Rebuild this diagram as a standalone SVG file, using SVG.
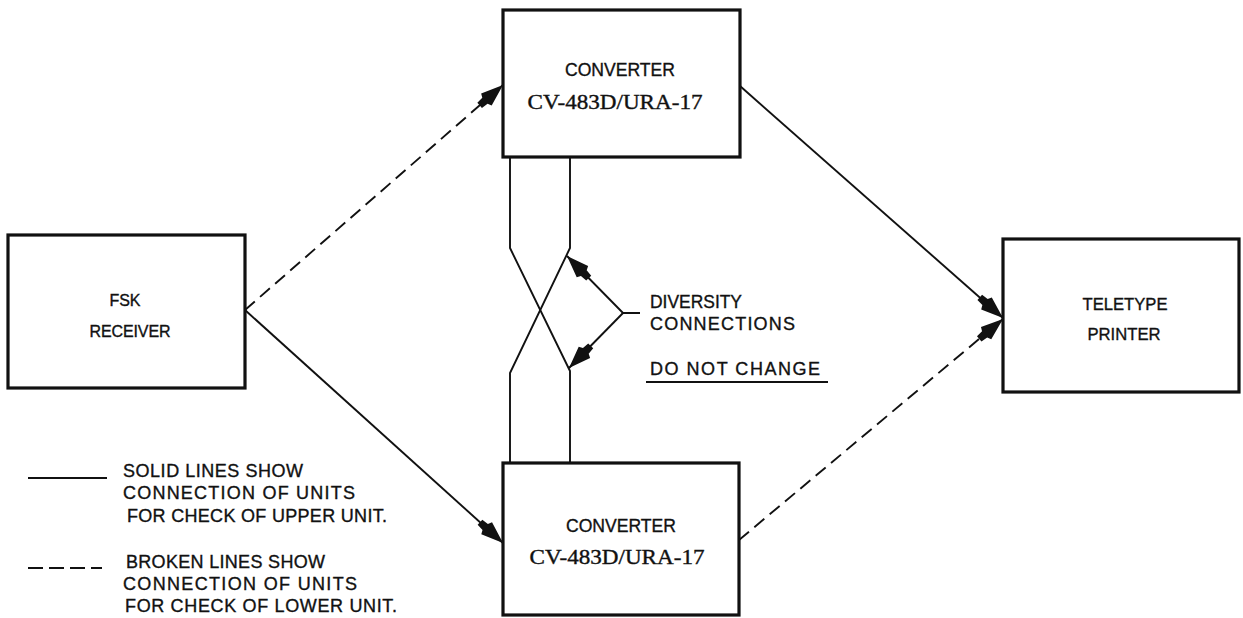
<svg xmlns="http://www.w3.org/2000/svg" width="1243" height="618" viewBox="0 0 1243 618">
<style>
.box{fill:#fff;stroke:#111;stroke-width:3.2}
.ln{fill:none;stroke:#111;stroke-width:1.9}
.dash{stroke-dasharray:13 7}
.t{font-family:"Liberation Sans",Arial,sans-serif;fill:#111;stroke:#111;stroke-width:0.35}
.s{font-family:"Liberation Serif","Times New Roman",serif;fill:#111;stroke:#111;stroke-width:0.4}
</style>
<defs>
<marker id="ah" viewBox="-34 -10 36 20" refX="0" refY="0" markerWidth="36" markerHeight="20" markerUnits="userSpaceOnUse" orient="auto">
<path d="M0,0 L-22,-8 L-24,-4 L-31,-3.5 L-31,3.5 L-24,4 L-22,8 Z" fill="#111"/>
</marker>
</defs>
<rect width="1243" height="618" fill="#fff"/>
<g id="connectors">
<path class="ln dash" d="M245,310 L503,85" marker-end="url(#ah)"/>
<path class="ln" d="M245,310 L503,543" marker-end="url(#ah)"/>
<path class="ln" d="M740,86 L1003,318" marker-end="url(#ah)"/>
<path class="ln dash" d="M739,540 L1003,319" marker-end="url(#ah)"/>
<path class="ln" d="M510,157 L510,248 L570,371 L570,463"/>
<path class="ln" d="M570,157 L570,248 L510,373 L510,463"/>
<path class="ln" d="M640,313 L623,313 L567,256" marker-end="url(#ah)"/>
<path class="ln" d="M623,313 L569,368" marker-end="url(#ah)"/>
</g>
<g id="fsk">
<rect class="box" x="8" y="235" width="237" height="153"/>
<text class="t" x="125" y="306" font-size="16" text-anchor="middle" textLength="31" lengthAdjust="spacing">FSK</text>
<text class="t" x="130" y="337" font-size="16" text-anchor="middle" textLength="81" lengthAdjust="spacing">RECEIVER</text>
</g>
<g id="conv-upper">
<rect class="box" x="503" y="10" width="237" height="147"/>
<text class="t" x="620" y="76" font-size="18" text-anchor="middle" textLength="110" lengthAdjust="spacingAndGlyphs">CONVERTER</text>
<text class="s" x="615" y="109" font-size="22" text-anchor="middle" textLength="175" lengthAdjust="spacingAndGlyphs">CV-483D/URA-17</text>
</g>
<g id="conv-lower">
<rect class="box" x="503" y="463" width="236" height="152"/>
<text class="t" x="621" y="532" font-size="18" text-anchor="middle" textLength="110" lengthAdjust="spacingAndGlyphs">CONVERTER</text>
<text class="s" x="617" y="564" font-size="22" text-anchor="middle" textLength="175" lengthAdjust="spacingAndGlyphs">CV-483D/URA-17</text>
</g>
<g id="teletype">
<rect class="box" x="1003" y="239" width="236" height="153"/>
<text class="t" x="1125" y="310" font-size="17" text-anchor="middle" textLength="85" lengthAdjust="spacingAndGlyphs">TELETYPE</text>
<text class="t" x="1124" y="340" font-size="17" text-anchor="middle" textLength="73" lengthAdjust="spacingAndGlyphs">PRINTER</text>
</g>
<g id="diversity-label">
<text class="t" x="650" y="308" font-size="18" textLength="92" lengthAdjust="spacingAndGlyphs">DIVERSITY</text>
<text class="t" x="650" y="330" font-size="18" textLength="145" lengthAdjust="spacing">CONNECTIONS</text>
<text class="t" x="650" y="375" font-size="18" textLength="170" lengthAdjust="spacing">DO NOT CHANGE</text>
<line class="ln" x1="646" y1="382" x2="828" y2="382"/>
</g>
<g id="legend">
<line class="ln" x1="28" y1="478" x2="107" y2="478"/>
<text class="t" x="123" y="477" font-size="18" textLength="180" lengthAdjust="spacing">SOLID LINES SHOW</text>
<text class="t" x="123" y="499" font-size="18" textLength="232" lengthAdjust="spacing">CONNECTION OF UNITS</text>
<text class="t" x="127" y="522" font-size="18" textLength="260" lengthAdjust="spacing">FOR CHECK OF UPPER UNIT.</text>
<line class="ln" x1="28" y1="568" x2="102" y2="568" stroke-dasharray="15 6"/>
<text class="t" x="126" y="568" font-size="18" textLength="199" lengthAdjust="spacing">BROKEN LINES SHOW</text>
<text class="t" x="123" y="590" font-size="18" textLength="234" lengthAdjust="spacing">CONNECTION OF UNITS</text>
<text class="t" x="125" y="612" font-size="18" textLength="272" lengthAdjust="spacing">FOR CHECK OF LOWER UNIT.</text>
</g>
</svg>
